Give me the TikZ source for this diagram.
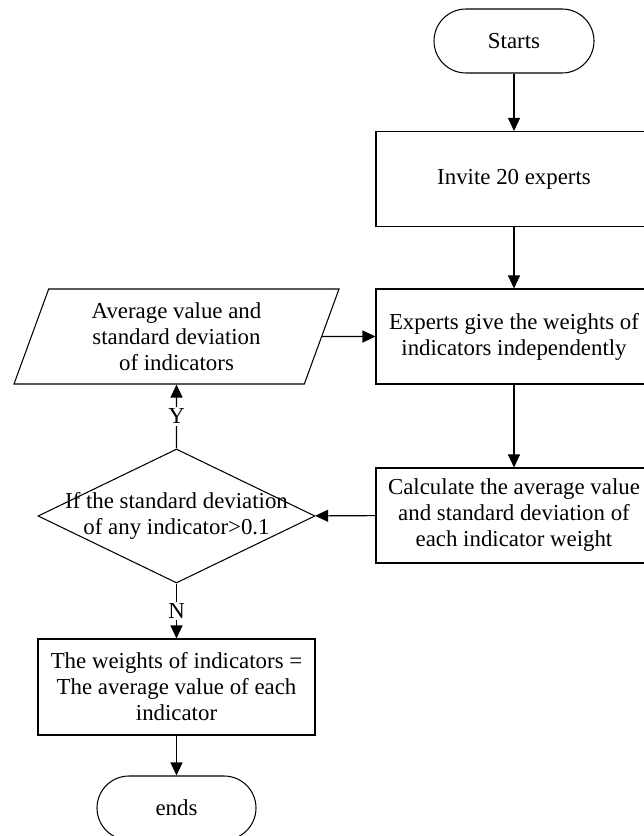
\documentclass[tikz,border=0pt]{standalone}
\usepackage{fontspec}
\setmainfont{Liberation Serif}
\usepackage{tikz}
\usetikzlibrary{shapes.geometric,arrows.meta,positioning,calc}
\tikzset{
termbox/.style={rectangle,rounded corners=0.64cm,draw=black,line width=0.6pt,
  minimum width=3.2cm,minimum height=1.28cm,align=center},
procbox/.style={rectangle,draw=black,line width=0.6pt,
  minimum width=5.52cm,minimum height=1.9cm,align=center,inner sep=1pt},
iobox/.style={trapezium,trapezium left angle=63,trapezium right angle=117,
  trapezium stretches body,draw=black,line width=0.6pt,
  minimum width=6.5cm,minimum height=1.9cm,align=center,inner sep=0pt},
decbox/.style={diamond,draw=black,line width=0.6pt,
  minimum width=5.54cm,minimum height=2.68cm,inner sep=0pt},
flowarr/.style={line width=0.6pt,-{Triangle[length=0.26cm,width=0.24cm]}},
yn/.style={fill=white,inner sep=1pt}
}
\begin{document}
\begin{tikzpicture}[font=\fontsize{13}{14.8}\selectfont]
\useasboundingbox (0,0) rectangle (12.86,-16.72);
% right column
\node[termbox] (start) at (10.28,-0.82) {Starts};
\node[procbox] (invite) at (10.28,-3.58) {Invite 20 experts};
\node[procbox] (give) at (10.28,-6.73) {Experts give the weights of\\indicators independently};
\node[procbox] (calc) at (10.28,-10.31) {Calculate the average value\\and standard deviation of\\each indicator weight};
% left column
\node[iobox] (avg) at (3.53,-6.73) {Average value and\\standard deviation\\of indicators};
\node[decbox] (test) at (3.53,-10.32) {};
\node[align=center] (testtxt) at (test.center) {If the standard deviation\\of any indicator>0.1};
\node[procbox,minimum width=5.54cm,minimum height=1.92cm] (wt) at (3.53,-13.74) {The weights of indicators =\\The average value of each\\indicator};
\node[termbox,minimum width=3.18cm] (stop) at (3.53,-16.16) {ends};
\draw[flowarr] (start) -- (invite);
\draw[flowarr] (invite) -- (give);
\draw[flowarr] (avg) -- (give);
\draw[flowarr] (give) -- (calc);
\draw[flowarr] (calc) -- (test);
\draw[flowarr] (test) -- node[yn] (ylab) {Y} (avg);
\draw[flowarr] (test) -- node[yn] (nlab) {N} (wt);
\draw[flowarr] (wt) -- (stop);
\end{tikzpicture}
\end{document}
